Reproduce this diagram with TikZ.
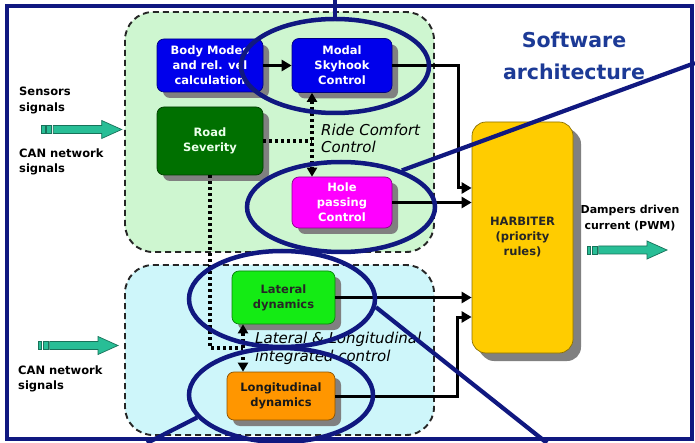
\documentclass[tikz,border=0pt]{standalone}
\usepackage{fontspec}
\setmainfont{DejaVu Sans}
\usepackage{tikz}
\usetikzlibrary{arrows.meta,shapes.geometric,shadows}

\definecolor{navyline}{RGB}{16,24,128}
\definecolor{swblue}{RGB}{28,58,150}
\definecolor{ridefill}{RGB}{206,246,208}
\definecolor{intfill}{RGB}{206,246,250}
\definecolor{bodyblue}{RGB}{0,0,235}
\definecolor{roadgreen}{RGB}{0,112,0}
\definecolor{holemag}{RGB}{255,0,255}
\definecolor{latgreen}{RGB}{20,235,20}
\definecolor{longorange}{RGB}{255,150,0}
\definecolor{harbyellow}{RGB}{255,204,0}
\definecolor{sigteal}{RGB}{40,190,150}

\newcommand{\sigarrow}[1]{%
  \filldraw[sigpath, shift={(#1)}] (0,-4) rectangle (3.3,4);
  \filldraw[sigpath, shift={(#1)}] (5,-4) rectangle (10,4);
  \filldraw[sigpath, shift={(#1)}] (11.6,-4) -- (60,-4) -- (60,-9) -- (80,0)
    -- (60,9) -- (60,4) -- (11.6,4) -- cycle;}

\begin{document}
\begin{tikzpicture}[x=1pt, y=-1pt,
  region/.style={draw=black!85, dash pattern=on 6pt off 4pt, line width=1.9pt,
    rounded corners=28pt},
  block/.style={draw=#1!55!black, fill=#1, rounded corners=7pt, align=center,
    line width=0.7pt, inner sep=0pt, font=\bfseries\fontsize{11.5}{15}\selectfont,
    drop shadow={shadow xshift=6pt, shadow yshift=-6pt, fill=black!50, opacity=1}},
  lbl/.style={inner sep=0pt, align=left, font=\bfseries\fontsize{11.5}{15.5}\selectfont},
  note/.style={inner sep=0pt, align=left, font=\itshape\fontsize{15}{17}\selectfont},
  flow/.style={-{Triangle[length=10pt,width=11pt]}, line width=3pt, draw=black},
  dots/.style={line width=3.2pt, dash pattern=on 3pt off 3pt, draw=black},
  dotflow/.style={dots, {Triangle[length=9pt,width=10pt]}-{Triangle[length=9pt,width=10pt]}},
  ring/.style={ellipse, draw=navyline, line width=4.5pt, inner sep=0pt},
  callout/.style={draw=navyline, line width=4.2pt},
  sigpath/.style={fill=sigteal, draw=sigteal!60!black, line width=0.7pt}
]
\useasboundingbox (0,0) rectangle (695,443);
\fill[white] (0,0) rectangle (695,443);

\draw[region, fill=ridefill] (125,12) rectangle (434,252);
\draw[region, fill=intfill] (125,265) rectangle (434,435);

\node[lbl] (sens) at (19,100.5) [anchor=west] {Sensors\\signals};
\node[lbl] (can1) at (19,162) [anchor=west] {CAN network\\signals};
\node[lbl] (can2) at (18,379) [anchor=west] {CAN network\\signals};
\node[inner sep=0pt, align=center, text=swblue,
  font=\bfseries\fontsize{20.5}{32}\selectfont] (title) at (574,56) {Software\\architecture};
\node[note] (ride) at (321,138.5) [anchor=west] {Ride Comfort\\Control};
\node[note, font=\itshape\fontsize{15}{18}\selectfont] (integ) at (255,348) [anchor=west]
  {Lateral \& Longitudinal\\integrated control};

\sigarrow{41.7,129.5}
\sigarrow{38,345.5}
\sigarrow{587,250}

\node[block=bodyblue, text=white, minimum width=106pt, minimum height=53pt] (body) at (210,65.5) {Body Modes\\and rel. vel\\calculation};
\node[block=bodyblue, text=white, minimum width=100pt, minimum height=54pt] (modal) at (342,65.5) {Modal\\Skyhook\\Control};
\node[block=roadgreen, text=white!92!green, minimum width=106pt, minimum height=68pt] (road) at (210,141) {Road\\Severity};
\node[block=holemag, text=white, minimum width=100pt, minimum height=51pt] (hole) at (342,202.5) {Hole\\passing\\Control};
\node[block=latgreen, text=black!85, minimum width=103pt, minimum height=53pt] (lat) at (283.5,297.5) {Lateral\\dynamics};
\node[block=longorange, text=black!90, minimum width=108pt, minimum height=48pt] (long) at (281,396) {Longitudinal\\dynamics};
\node[block=harbyellow, text=black!85, rounded corners=14pt, minimum width=101pt, minimum height=231pt,
  drop shadow={shadow xshift=8pt, shadow yshift=-8pt, fill=black!50, opacity=1}] (harb) at (522.5,237.5) {HARBITER\\(priority\\rules)};
\node[lbl, align=center, font=\bfseries\fontsize{11}{15.5}\selectfont] (damp) at (630,218) {Dampers driven\\current (PWM)};

\coordinate (rcj) at (312,141);
\coordinate (llj) at (243,348);
\coordinate (mbend) at (458,188);
\coordinate (lbend) at (457,317);

\draw[flow] (body) -- (modal);
\draw[flow] (modal.east) -| (mbend) -- (mbend -| harb.west);
\draw[flow] (hole.east) -- (hole.east -| harb.west);
\draw[flow] (lat.east) -- (lat.east -| harb.west);
\draw[flow] (long.east) -| (lbend) -- (lbend -| harb.west);
\draw[dots] (road.east) -- (rcj);
\draw[dotflow] (rcj |- modal.south) -- (rcj |- hole.north);
\draw[dots] (road.south) |- (llj);
\draw[dotflow] (llj |- lat.south) -- (llj |- long.north);

\draw[navyline, line width=4.5pt] (7,6) rectangle (692,439);

\node[ring, minimum width=188pt, minimum height=94pt] (skyring) at (335,66) {};
\node[ring, minimum width=188pt, minimum height=90pt] (holering) at (341,207) {};
\node[ring, minimum width=186pt, minimum height=96pt] (latring) at (282,299) {};
\node[ring, minimum width=184pt, minimum height=94pt] (longring) at (281,395) {};

\coordinate (topcut) at (335,0);
\coordinate (rightcut) at (695,63);
\coordinate (botcut) at (547,443);
\coordinate (leftcut) at (147,443);
\draw[callout] (skyring.north) -- (topcut);
\draw[callout] (holering.31) -- (rightcut);
\draw[callout] (latring.-5) -- (botcut);
\draw[callout] (longring.195) -- (leftcut);
\end{tikzpicture}
\end{document}
